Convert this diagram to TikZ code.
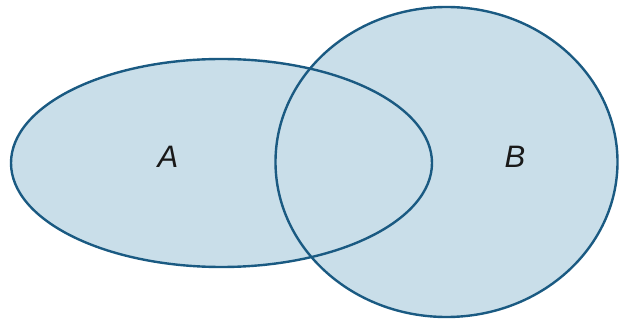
\documentclass[tikz,border=0pt]{standalone}
\usepackage{fontspec}
\setsansfont{Liberation Sans}
\usepackage{tikz}
\usetikzlibrary{shapes.geometric}

\definecolor{setfill}{HTML}{C9DEE9}
\definecolor{setline}{HTML}{1A5A82}

\begin{document}
\begin{tikzpicture}[
    x=1pt, y=1pt,
    setbox/.style={ellipse, fill=setfill, draw=none, inner sep=0pt},
    outline/.style={draw=setline, line width=2.4pt},
    lab/.style={font=\sffamily\itshape\fontsize{31}{33}\selectfont, text=black!90}
]
\useasboundingbox (0,0) rectangle (619,-323);

\node[setbox, minimum width=421pt, minimum height=208pt] (setA) at (221.5,-163) {};
\node[setbox, minimum width=342pt, minimum height=310pt] (setB) at (446.5,-162) {};

\draw[outline] (setA.center) ellipse [x radius=210.5, y radius=104];
\draw[outline] (setB.center) ellipse [x radius=171, y radius=155];

\node[lab] (labA) at (168,-157) {A};
\node[lab] (labB) at (515,-157) {B};
\end{tikzpicture}
\end{document}
